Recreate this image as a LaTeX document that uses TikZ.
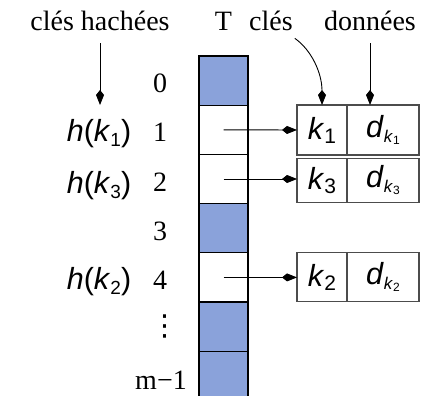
\documentclass[tikz,border=0pt]{standalone}
\usepackage{fontspec}
\setmainfont{Liberation Serif}
\setsansfont{Liberation Sans}
\newfontfamily\symbfont{DejaVu Sans}
\usetikzlibrary{positioning,arrows.meta}
\definecolor{slotblue}{RGB}{138,162,218}
\newcommand{\lowsub}[3]{\raisebox{-#2}{\fontsize{#1}{#1}\selectfont #3}}
\newcommand{\hashof}[1]{\textit{h}(\textit{k}\lowsub{19pt}{5.5pt}{#1})}
\newcommand{\keyof}[1]{\textit{k}\lowsub{21pt}{4pt}{#1}}
\newcommand{\datof}[1]{\textit{d}\lowsub{17pt}{5pt}{\textit{k}\lowsub{12pt}{2pt}{#1}}}
\tikzset{
	cell/.style={draw=black, line width=1.1pt, minimum width=49pt, minimum height=49.2pt, inner sep=0pt, outer sep=0pt},
	used/.style={cell, fill=slotblue},
	keybox/.style={draw=black!70, line width=1.1pt, minimum width=50pt, inner sep=0pt, outer sep=0pt, font=\sffamily\fontsize{30.5}{32}\selectfont},
	datbox/.style={keybox, minimum width=72pt},
	toplabel/.style={font=\fontsize{28}{30}\selectfont, inner sep=0pt, anchor=base},
	hashlabel/.style={font=\sffamily\fontsize{30.5}{32}\selectfont, inner sep=0pt, anchor=base},
	ptr/.style={-{Kite[length=15pt,width=8pt,inset=5pt]}, line width=0.9pt}
}

\begin{document}
\begin{tikzpicture}[x=1pt, y=-1pt]
	\useasboundingbox (0,0) rectangle (423,396);

		% Table T
		\foreach \i/\s in {0/used,1/cell,2/cell,3/used,4/cell,5/used,6/used}
			\node[\s] (cell\i) at (223.5, {80.6+49.2*\i}) {};

		% Indices
		\foreach \i in {0,...,4}
			\node[toplabel] (idx\i) at (160, {92.6+49.2*\i}) {\i};
		\node[font=\symbfont\fontsize{29}{30}\selectfont, inner sep=0pt] (idx5) at (165, 326.6) {⋮};
		\node[toplabel] (idx6) at (161, 389) {m−1};

		% Hashed keys
		\node[hashlabel] (h1) at (99, 141) {\hashof{1}};
		\node[hashlabel] (h3) at (99, 193.3) {\hashof{3}};
		\node[hashlabel] (h2) at (99, 289.4) {\hashof{2}};

		% Records
		\node[keybox, minimum height=50pt] (key1) at (322, 130) {\keyof{1}};
		\node[datbox, minimum height=50pt, right=0pt of key1] (dat1) {\datof{1}};
		\node[keybox, minimum height=44pt] (key3) at (322, 180.2) {\keyof{3}};
		\node[datbox, minimum height=44pt, right=0pt of key3] (dat3) {\datof{3}};
		\node[keybox, minimum height=49pt] (key2) at (322, 277.2) {\keyof{2}};
		\node[datbox, minimum height=49pt, right=0pt of key2] (dat2) {\datof{2}};

		% Headings
		\node[toplabel] (hashed) at (100, 31) {clés hachées};
		\node[toplabel] (tname) at (223.5, 31) {T};
		\node[toplabel] (keys) at (271, 31) {clés};
		\node[toplabel] (data) at (370, 31) {données};

		% Pointers
		\draw[ptr, shorten <=12pt] (hashed.south) -- (hashed.south |- key1.north);
		\draw[ptr, shorten <=12pt] ([xshift=14pt]keys.south) to[out=-35, in=90] (key1.north);
		\draw[ptr, shorten <=12pt] (data.south) -- (data.south |- dat1.north);

		\draw[ptr] (cell1.center) -- (key1.west);
		\draw[ptr] (cell2.center) -- (cell2.center -| key3.west);
		\draw[ptr] (cell4.center) -- (cell4.center -| key2.west);

\end{tikzpicture}
\end{document}
